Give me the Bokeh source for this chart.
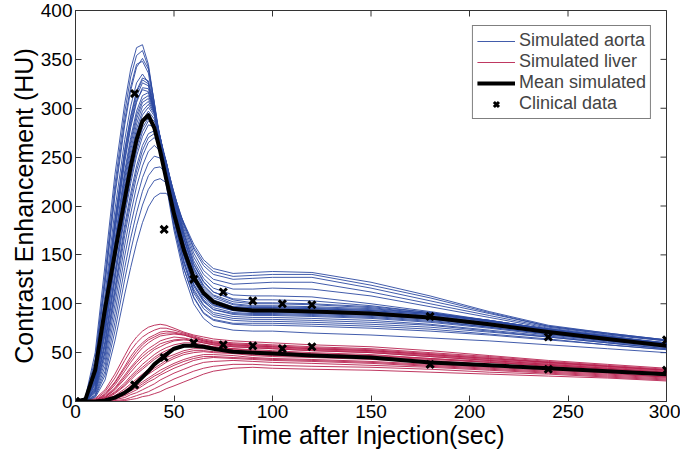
import math
from bokeh.plotting import figure
from bokeh.models import Range1d, Legend, LegendItem, FixedTicker, ColumnDataSource
from bokeh.embed import file_html
from bokeh.resources import INLINE

# ---------------- data ----------------
T = [0, 5, 10, 15, 20, 25, 28, 31, 34, 37, 40, 43, 46, 50, 55, 60, 65, 70, 80, 90, 100,
     120, 150, 180, 210, 240, 270, 300]

aorta_01 = [0, 4, 50, 140, 232, 305, 340, 362, 365, 345, 305, 262, 222, 175, 130, 100, 85, 77, 73, 72, 72, 70, 68, 65, 62, 58, 54, 50]
aorta_02 = [0, 3, 44, 130, 222, 296, 332, 354, 359, 342, 305, 265, 226, 180, 136, 106, 90, 83, 79, 78, 78, 77, 75, 72, 68, 63, 58, 53]
aorta_03 = [0, 2, 38, 120, 210, 283, 318, 342, 351, 340, 306, 268, 230, 185, 141, 111, 95, 87, 83, 82, 82, 81, 79, 76, 71, 66, 60, 54]
aorta_04 = [0, 2, 34, 110, 196, 268, 302, 326, 335, 326, 296, 262, 228, 186, 144, 115, 99, 91, 87, 86, 86, 85, 83, 79, 73, 67, 61, 55]
aorta_05 = [0, 1, 30, 102, 186, 258, 292, 318, 331, 328, 302, 268, 234, 191, 148, 118, 102, 94, 89, 88, 88, 87, 85, 81, 75, 68, 62, 56]
aorta_06 = [0, 1, 28, 97, 180, 252, 286, 312, 326, 323, 299, 267, 234, 192, 150, 120, 104, 96, 91, 90, 90, 89, 87, 83, 76, 69, 63, 57]
aorta_07 = [0, 1, 25, 92, 173, 245, 280, 306, 321, 320, 298, 268, 236, 195, 153, 123, 106, 98, 93, 92, 92, 91, 89, 85, 78, 70, 63, 57]
aorta_08 = [0, 1, 23, 86, 165, 236, 270, 297, 313, 316, 299, 271, 240, 198, 156, 125, 108, 99, 94, 93, 93, 92, 90, 86, 79, 71, 64, 57]
aorta_09 = [0, 1, 21, 80, 157, 228, 262, 289, 306, 310, 296, 270, 241, 200, 158, 127, 110, 101, 95, 94, 94, 93, 91, 87, 80, 72, 65, 58]
aorta_10 = [0, 1, 19, 74, 148, 218, 252, 279, 297, 304, 294, 270, 243, 203, 160, 129, 112, 102, 96, 95, 95, 94, 92, 88, 81, 73, 66, 58]
aorta_11 = [0, 0, 17, 68, 140, 208, 242, 270, 288, 297, 289, 268, 243, 205, 163, 131, 114, 104, 97, 96, 96, 95, 93, 89, 82, 74, 66, 59]
aorta_12 = [0, 0, 15, 62, 132, 199, 232, 260, 280, 290, 287, 270, 246, 208, 166, 134, 116, 106, 99, 97, 97, 96, 94, 90, 83, 74, 67, 59]
aorta_13 = [0, 0, 13, 57, 124, 190, 223, 251, 271, 283, 281, 266, 245, 209, 168, 137, 119, 109, 102, 100, 100, 99, 96, 90, 82, 73, 66, 59]
aorta_14 = [0, 0, 12, 52, 116, 181, 213, 241, 262, 274, 277, 265, 245, 211, 171, 140, 122, 112, 105, 104, 104, 103, 98, 91, 82, 73, 66, 60]
aorta_15 = [0, 0, 10, 46, 107, 170, 202, 230, 251, 265, 270, 262, 245, 213, 174, 144, 126, 116, 109, 108, 108, 107, 100, 92, 83, 74, 67, 60]
aorta_16 = [0, 0, 9, 41, 99, 160, 192, 220, 241, 256, 262, 256, 242, 214, 177, 148, 130, 121, 115, 115, 116, 115, 108, 97, 86, 75, 68, 62]
aorta_17 = [0, 0, 7, 36, 90, 149, 180, 207, 229, 244, 251, 249, 238, 213, 180, 152, 134, 125, 120, 121, 122, 122, 112, 100, 88, 76, 69, 62]
aorta_18 = [0, 0, 6, 31, 81, 137, 167, 193, 215, 231, 239, 240, 233, 212, 182, 156, 139, 130, 125, 126, 127, 127, 116, 103, 90, 77, 69, 63]
aorta_19 = [0, 0, 5, 27, 72, 125, 154, 180, 201, 217, 226, 228, 224, 208, 182, 158, 142, 133, 128, 129, 130, 130, 119, 106, 91, 77, 70, 63]
aorta_20 = [0, 0, 4, 22, 62, 110, 137, 162, 183, 199, 209, 213, 213, 204, 183, 161, 145, 136, 131, 132, 133, 132, 122, 108, 92, 78, 70, 63]
aorta_21 = [0, 2, 40, 124, 215, 288, 322, 345, 348, 336, 300, 262, 224, 179, 136, 107, 91, 84, 80, 80, 80, 79, 77, 74, 69, 64, 58, 53]
aorta_22 = [0, 1, 29, 100, 184, 256, 290, 316, 329, 325, 298, 264, 229, 186, 143, 113, 98, 89, 85, 84, 84, 83, 81, 78, 72, 66, 60, 54]
aorta_23 = [0, 1, 26, 94, 176, 248, 283, 308, 319, 317, 295, 265, 233, 192, 150, 120, 103, 94, 90, 89, 89, 88, 86, 82, 76, 69, 62, 56]
aorta_24 = [0, 1, 22, 83, 161, 232, 266, 293, 309, 313, 297, 270, 240, 199, 157, 126, 108, 99, 93, 91, 91, 90, 88, 84, 77, 70, 63, 57]
aorta_25 = [0, 1, 20, 78, 152, 223, 257, 284, 302, 307, 295, 270, 242, 202, 160, 129, 112, 102, 97, 96, 96, 95, 93, 89, 82, 74, 66, 59]
aorta_26 = [0, 1, 18, 71, 144, 213, 247, 275, 293, 301, 292, 269, 243, 204, 161, 130, 112, 101, 94, 92, 92, 91, 89, 85, 78, 71, 64, 57]
aorta_27 = [0, 0, 14, 60, 128, 195, 228, 256, 276, 287, 284, 268, 245, 208, 167, 136, 118, 108, 100, 98, 98, 97, 95, 90, 83, 74, 67, 59]
aorta_28 = [0, 0, 11, 50, 112, 176, 208, 236, 257, 270, 274, 264, 246, 212, 172, 141, 123, 112, 104, 101, 101, 100, 97, 91, 83, 74, 66, 60]

liver_01 = [0, 0, 3, 12, 28, 47, 58, 66, 72, 76, 78, 79, 78, 75, 71, 68, 66, 64, 62, 61, 60, 58, 56, 52, 47, 42, 38, 34]
liver_02 = [0, 0, 2, 10, 24, 42, 52, 60, 66, 70, 73, 75, 75, 73, 70, 67, 64, 62, 60, 59, 58, 56, 54, 50, 46, 41, 37, 33]
liver_03 = [0, 0, 1, 8, 20, 36, 46, 54, 60, 65, 68, 71, 72, 71, 69, 66, 63, 61, 59, 58, 57, 55, 53, 49, 45, 40, 36, 32]
liver_04 = [0, 0, 1, 6, 17, 31, 40, 48, 55, 60, 64, 67, 68, 69, 68, 65, 62, 60, 58, 57, 56, 54, 52, 48, 44, 40, 36, 32]
liver_05 = [0, 0, 1, 5, 14, 27, 35, 42, 49, 54, 58, 62, 64, 66, 65, 63, 61, 59, 57, 56, 55, 53, 51, 47, 43, 39, 35, 31]
liver_06 = [0, 0, 0, 4, 12, 23, 30, 37, 43, 48, 53, 56, 59, 62, 63, 62, 60, 58, 56, 55, 54, 52, 50, 46, 42, 38, 34, 30]
liver_07 = [0, 0, 0, 3, 10, 19, 26, 32, 38, 43, 48, 52, 55, 58, 60, 60, 58, 56, 54, 53, 52, 50, 48, 44, 41, 37, 33, 29]
liver_08 = [0, 0, 0, 2, 8, 16, 22, 28, 33, 38, 43, 47, 50, 53, 56, 57, 56, 55, 53, 51, 50, 48, 46, 43, 40, 36, 32, 28]
liver_09 = [0, 0, 0, 2, 6, 13, 18, 23, 28, 33, 37, 41, 45, 48, 52, 54, 54, 53, 51, 49, 48, 47, 45, 42, 38, 35, 31, 27]
liver_10 = [0, 0, 0, 1, 5, 10, 15, 19, 24, 28, 32, 36, 40, 44, 48, 50, 51, 50, 49, 47, 46, 45, 43, 40, 37, 33, 30, 26]
liver_11 = [0, 0, 0, 1, 4, 8, 12, 16, 20, 24, 28, 32, 35, 39, 43, 46, 48, 48, 47, 45, 44, 43, 41, 38, 35, 32, 29, 25]
liver_12 = [0, 0, 0, 0, 3, 6, 9, 12, 16, 20, 23, 27, 30, 34, 38, 42, 44, 45, 44, 43, 42, 41, 39, 36, 33, 30, 27, 24]
liver_13 = [0, 0, 0, 0, 2, 4, 7, 9, 12, 15, 18, 22, 25, 29, 33, 37, 40, 41, 42, 41, 40, 39, 37, 35, 32, 29, 26, 23]
liver_14 = [0, 0, 0, 0, 1, 2, 4, 6, 8, 10, 13, 16, 19, 23, 27, 31, 34, 36, 38, 38, 37, 36, 35, 33, 30, 28, 25, 22]
liver_15 = [0, 0, 0, 0, 0, 1, 2, 3, 5, 6, 8, 10, 13, 16, 20, 24, 28, 31, 34, 35, 34, 33, 32, 30, 28, 26, 24, 21]
liver_16 = [0, 0, 1, 7, 19, 34, 43, 51, 58, 63, 66, 69, 70, 70, 68, 65, 62, 60, 58, 57, 56, 54, 52, 48, 44, 40, 36, 32]
liver_17 = [0, 0, 0, 4, 13, 25, 33, 40, 46, 51, 55, 59, 61, 63, 64, 62, 60, 58, 56, 55, 54, 52, 50, 46, 42, 38, 34, 30]
liver_18 = [0, 0, 0, 3, 9, 17, 24, 30, 35, 40, 45, 49, 52, 55, 57, 58, 57, 56, 54, 52, 51, 49, 47, 44, 40, 37, 33, 29]
liver_19 = [0, 0, 0, 2, 5, 11, 16, 21, 26, 30, 34, 38, 42, 46, 50, 52, 52, 51, 50, 48, 47, 46, 44, 41, 38, 34, 31, 27]
liver_20 = [0, 0, 0, 1, 3, 7, 11, 14, 18, 22, 26, 29, 33, 37, 41, 44, 46, 46, 45, 44, 43, 42, 40, 37, 34, 31, 28, 25]

mean_aorta = [0, 2, 32, 95, 152, 207, 240, 268, 287, 293, 280, 256, 228, 192, 155, 127, 111, 102, 95, 93, 93, 92, 90, 86, 79, 71, 64, 57]
mean_liver = [0, 0, 0, 1, 4, 9, 13, 19, 25, 31, 38, 43, 48, 54, 57, 57, 56, 54, 51, 50, 49, 47, 45, 40, 37, 34, 31, 28]

clin_t = [0, 30, 45, 60, 75, 90, 105, 120, 180, 240, 300]
clin_aorta = [0, 315, 176, 125, 112, 103, 100, 99, 87, 66, 63]
clin_liver = [0, 17, 45, 60, 58, 57, 54, 56, 38, 33, 32]

x_ticks = [0, 50, 100, 150, 200, 250, 300]
y_ticks = [0, 50, 100, 150, 200, 250, 300, 350, 400]
X_MIN, X_MAX = 0, 300
Y_MIN, Y_MAX = 0, 400

aorta_sims = [aorta_01, aorta_02, aorta_03, aorta_04, aorta_05, aorta_06, aorta_07, aorta_08, aorta_09, aorta_10,
              aorta_11, aorta_12, aorta_13, aorta_14, aorta_15, aorta_16, aorta_17, aorta_18, aorta_19, aorta_20,
              aorta_21, aorta_22, aorta_23, aorta_24, aorta_25, aorta_26, aorta_27, aorta_28]
liver_sims = [liver_01, liver_02, liver_03, liver_04, liver_05, liver_06, liver_07, liver_08, liver_09, liver_10,
              liver_11, liver_12, liver_13, liver_14, liver_15, liver_16, liver_17, liver_18, liver_19, liver_20]

# ---------------- styling ----------------
FONT = "Liberation Sans"
AORTA_C = "#2c4aa2"
LIVER_C = "#b8214f"
AX_C = "#333333"

p = figure(width=680, height=454, output_backend="svg", toolbar_location=None,
           x_range=Range1d(X_MIN, X_MAX), y_range=Range1d(Y_MIN, Y_MAX),
           min_border_left=75, min_border_right=14, min_border_top=10, min_border_bottom=53)
p.grid.visible = False
p.outline_line_color = AX_C
p.background_fill_color = "white"
p.border_fill_color = "white"

xa = p.below[0]
ya = p.left[0]
xa.ticker = FixedTicker(ticks=x_ticks)
ya.ticker = FixedTicker(ticks=y_ticks)
xa.axis_label = "Time after Injection(sec)"
ya.axis_label = "Contrast Enhancement (HU)"

for ax in [xa, ya]:
    ax.major_tick_in = 6
    ax.major_tick_out = 0
    ax.minor_tick_line_color = None
    ax.axis_line_color = AX_C
    ax.major_tick_line_color = AX_C
    ax.major_label_text_font = FONT
    ax.major_label_text_font_size = "19px"
    ax.major_label_text_color = "black"
    ax.axis_label_text_font = FONT
    ax.axis_label_text_font_size = "25px"
    ax.axis_label_text_font_style = "normal"
    ax.axis_label_text_color = "black"
    ax.major_label_standoff = 3
    ax.axis_label_standoff = 0

# inward ticks on the top and right edges of the box (clipped by the frame)
p.scatter(x_ticks, [Y_MAX] * len(x_ticks), marker="dash", angle=math.pi / 2, size=12,
          line_color=AX_C, line_width=1)
p.scatter([X_MAX] * len(y_ticks), y_ticks, marker="dash", size=12,
          line_color=AX_C, line_width=1)

# ---------------- glyphs ----------------
src_a = ColumnDataSource(dict(xs=[T] * len(aorta_sims), ys=aorta_sims))
src_l = ColumnDataSource(dict(xs=[T] * len(liver_sims), ys=liver_sims))
ra = p.multi_line("xs", "ys", source=src_a, line_color=AORTA_C, line_width=0.9)
rl = p.multi_line("xs", "ys", source=src_l, line_color=LIVER_C, line_width=0.9)
rm = p.line(T, mean_aorta, line_color="black", line_width=4, line_join="round")
p.line(T, mean_liver, line_color="black", line_width=4, line_join="round")
rc = p.scatter(clin_t, clin_aorta, marker="x", size=10, line_color="black", line_width=3)
p.scatter(clin_t, clin_liver, marker="x", size=10, line_color="black", line_width=3)

legend = Legend(items=[
    LegendItem(label="Simulated aorta", renderers=[ra]),
    LegendItem(label="Simulated liver", renderers=[rl]),
    LegendItem(label="Mean simulated", renderers=[rm]),
    LegendItem(label="Clinical data", renderers=[rc]),
], location="top_right")
legend.margin = 15
legend.padding = 4
legend.spacing = 0
legend.glyph_width = 38
legend.glyph_height = 18
legend.label_height = 18
legend.label_standoff = 4
legend.label_text_font = FONT
legend.label_text_font_size = "18px"
legend.border_line_color = "black"
legend.border_line_width = 1
legend.background_fill_alpha = 1
p.add_layout(legend)

open("out.html", "w").write(file_html(p, INLINE))
